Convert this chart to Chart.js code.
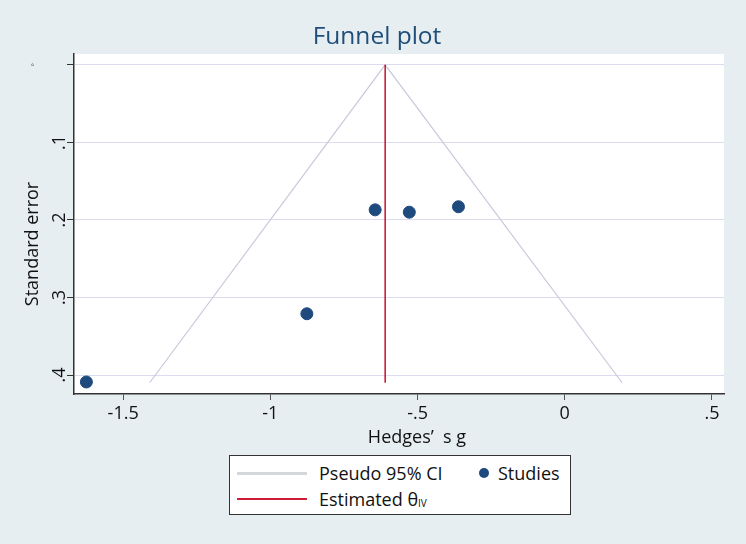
<!DOCTYPE html>
<html>
<head>
<meta charset="utf-8">
<script src="https://cdn.jsdelivr.net/npm/chart.js@4/dist/chart.umd.min.js"></script>
<style>
  html, body { margin: 0; padding: 0; background: #e6eef1; }
  #wrap { position: relative; width: 746px; height: 544px; }
  canvas { position: absolute; left: 0; top: 0; }
  #legend {
    position: absolute; left: 229px; top: 455px; width: 340px; height: 58px;
    background: #ffffff; border: 1.5px solid #333; font-family: "Open Sans", sans-serif;
    font-size: 18px; color: #111;
  }
  .ln { position: absolute; height: 0; }
  .tx { position: absolute; white-space: nowrap; line-height: 20px; }
  .dot { position: absolute; width: 10px; height: 10px; border-radius: 50%; background: #1f4a7e; }
  sub.sc { font-size: 10px; vertical-align: -1px; }
</style>
</head>
<body>
<div id="wrap">
  <canvas id="c" width="746" height="544"></canvas>
  <div id="legend">
    <div class="ln" style="left:7px; top:16px; width:70px; border-top:3px solid #d3d7d9;"></div>
    <div class="tx" style="left:89px; top:7px;">Pseudo 95% CI</div>
    <div class="dot" style="left:249px; top:12px;"></div>
    <div class="tx" style="left:268px; top:7px;">Studies</div>
    <div class="ln" style="left:7px; top:42px; width:70px; border-top:2.5px solid #d11a35;"></div>
    <div class="tx" style="left:89px; top:33px;">Estimated θ<sub class="sc">IV</sub></div>
  </div>
</div>
<script>
// ---- data ----
const studyEffect = [-1.625, -0.876, -0.644, -0.528, -0.361];
const studySE     = [0.409, 0.321, 0.187, 0.190, 0.183];
const ciX = [-1.41, -0.61, 0.195];
const ciY = [0.41, 0, 0.41];
const estX = [-0.61, -0.61];
const estY = [0, 0.41];
const xTickValues = [-1.5, -1, -0.5, 0, 0.5];
const xTickLabels = ["-1.5", "-1", "-.5", "0", ".5"];
const yTickValues = [0, 0.1, 0.2, 0.3, 0.4];
const yTickLabels = ["°", ".1", ".2", ".3", ".4"];

const FONT = '"Open Sans", sans-serif';

const pts = (xs, ys) => xs.map((x, i) => ({ x: x, y: ys[i] }));

const decor = {
  id: 'decor',
  beforeDraw(chart) {
    const { ctx, chartArea: a } = chart;
    ctx.save();
    ctx.fillStyle = '#ffffff';
    ctx.fillRect(a.left, a.top, a.right - a.left, a.bottom - a.top);
    ctx.restore();
  },
  afterDraw(chart) {
    const { ctx } = chart;
    const ys = chart.scales.y;
    ctx.save();
    // title
    ctx.fillStyle = '#1f4e79';
    ctx.font = '24.5px ' + FONT;
    ctx.textAlign = 'center';
    ctx.textBaseline = 'middle';
    ctx.fillText('Funnel plot', 377, 37);
    // x title
    ctx.fillStyle = '#111';
    ctx.font = '18px ' + FONT;
    ctx.fillText('Hedges’  s g', 417, 438);
    // y title
    ctx.save();
    ctx.translate(33, 244);
    ctx.rotate(-Math.PI / 2);
    ctx.fillText('Standard error', 0, 0);
    ctx.restore();
    // y tick labels (rotated)
    yTickValues.forEach((v, i) => {
      const py = ys.getPixelForValue(v);
      ctx.save();
      if (i === 0) {
        ctx.translate(35, py);
        ctx.font = '8px ' + FONT;
        ctx.fillStyle = '#555';
      } else {
        ctx.translate(60, py);
        ctx.font = '18px ' + FONT;
        ctx.fillStyle = '#111';
      }
      ctx.rotate(-Math.PI / 2);
      ctx.textAlign = 'center';
      ctx.textBaseline = 'middle';
      ctx.fillText(yTickLabels[i], 0, 0);
      ctx.restore();
    });
    ctx.restore();
  }
};

new Chart(document.getElementById('c'), {
  type: 'scatter',
  data: {
    datasets: [
      {
        label: 'Studies',
        data: pts(studyEffect, studySE),
        backgroundColor: '#1f4a7e',
        borderColor: '#1f4a7e',
        pointRadius: 6,
        order: 0
      },
      {
        label: 'Estimated θIV',
        data: pts(estX, estY),
        showLine: true,
        borderColor: '#c8102e',
        borderWidth: 1.5,
        pointRadius: 0,
        order: 1
      },
      {
        label: 'Pseudo 95% CI',
        data: pts(ciX, ciY),
        showLine: true,
        borderColor: '#c9c9dc',
        borderWidth: 1.2,
        pointRadius: 0,
        order: 2
      }
    ]
  },
  options: {
    responsive: false,
    animation: false,
    layout: { padding: { left: 0, top: 54, right: 22, bottom: 0 } },
    plugins: { legend: { display: false }, tooltip: { enabled: false }, title: { display: false } },
    scales: {
      x: {
        type: 'linear',
        min: -1.667,
        max: 0.541,
        afterBuildTicks(s) { s.ticks = xTickValues.map(v => ({ value: v })); },
        afterFit(s) { s.height = 150; },
        ticks: {
          autoSkip: false,
          maxRotation: 0,
          padding: 3,
          color: '#111',
          font: { family: FONT, size: 18 },
          callback(v) { const i = xTickValues.indexOf(v); return i >= 0 ? xTickLabels[i] : ''; }
        },
        grid: { drawOnChartArea: false, drawTicks: true, tickLength: 6, tickColor: '#555' },
        border: { display: true, color: '#333', width: 1.5 }
      },
      y: {
        type: 'linear',
        reverse: true,
        min: -0.014,
        max: 0.4245,
        afterBuildTicks(s) { s.ticks = yTickValues.map(v => ({ value: v })); },
        afterFit(s) { s.width = 74; },
        ticks: { display: false },
        grid: { color: '#dcdcf0', lineWidth: 1, drawTicks: true, tickLength: 7, tickColor: '#333' },
        border: { display: true, color: '#333', width: 1.5 }
      }
    }
  },
  plugins: [decor]
});
</script>
</body>
</html>
